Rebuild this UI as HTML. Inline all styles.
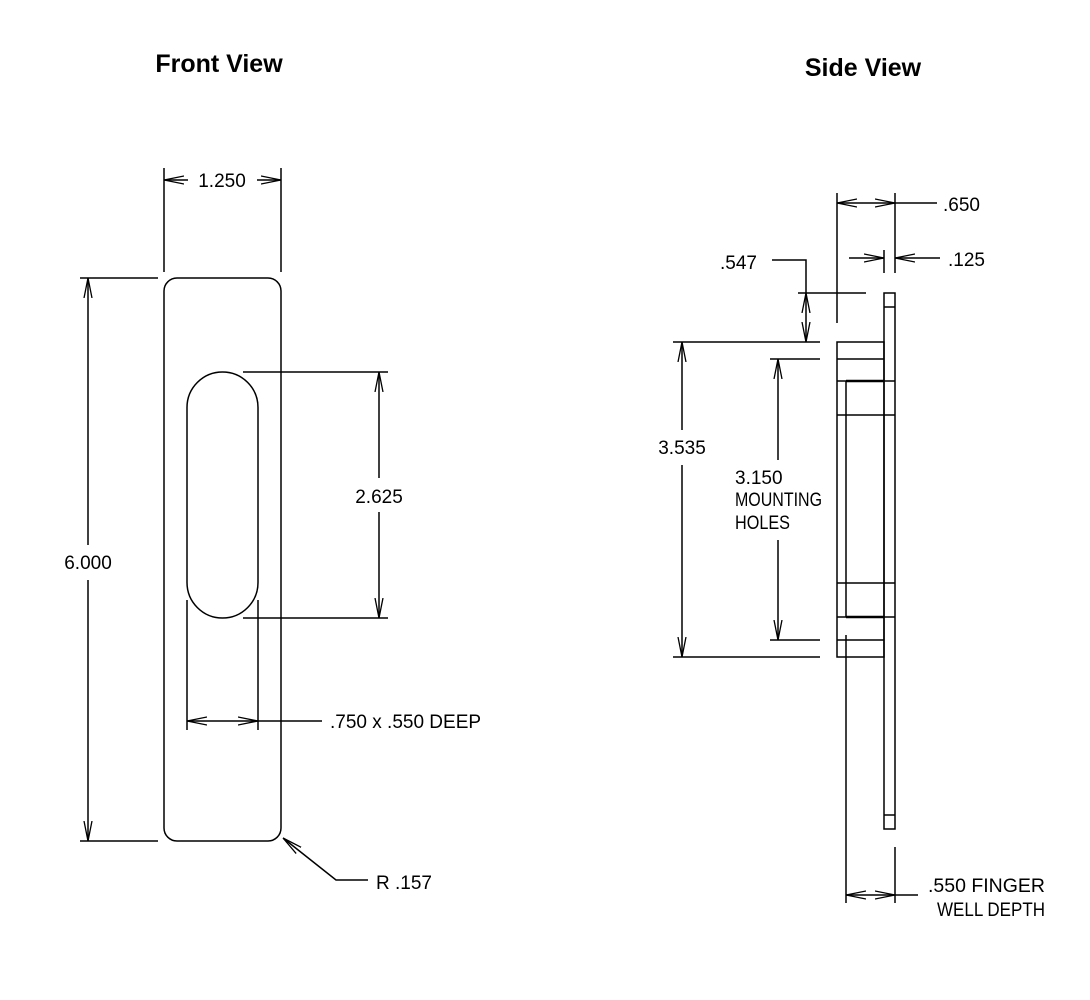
<!DOCTYPE html>
<html><head><style>
html,body{margin:0;padding:0;background:#fff}
svg{display:block}
text{font-family:"Liberation Sans",sans-serif;fill:#000}
.d{font-size:19px;font-weight:normal;letter-spacing:0px}
</style></head><body>
<svg width="1090" height="1000" viewBox="0 0 1090 1000" xmlns="http://www.w3.org/2000/svg">
<defs>
<marker id="a" viewBox="0 0 20 10" refX="20" refY="5" markerWidth="20" markerHeight="10" markerUnits="userSpaceOnUse" orient="auto-start-reverse">
<polyline points="0,1 20,5 0,9" fill="none" stroke="#000" stroke-width="1.3"/>
</marker>
</defs>
<g stroke="#000" stroke-width="1.5" fill="none">
<rect x="164" y="278" width="117" height="563" rx="13"/>
<rect x="187" y="372" width="71" height="246" rx="35.5"/>
<line x1="164" y1="168" x2="164" y2="272"/>
<line x1="281" y1="168" x2="281" y2="272"/>
<line x1="164" y1="180" x2="188" y2="180" marker-start="url(#a)"/>
<line x1="257" y1="180" x2="281" y2="180" marker-end="url(#a)"/>
<line x1="80" y1="278" x2="158" y2="278"/>
<line x1="80" y1="841" x2="158" y2="841"/>
<line x1="88" y1="278" x2="88" y2="545" marker-start="url(#a)"/>
<line x1="88" y1="580" x2="88" y2="841" marker-end="url(#a)"/>
<line x1="243" y1="372" x2="388" y2="372"/>
<line x1="243" y1="618" x2="388" y2="618"/>
<line x1="379" y1="372" x2="379" y2="478" marker-start="url(#a)"/>
<line x1="379" y1="512" x2="379" y2="618" marker-end="url(#a)"/>
<line x1="187" y1="600" x2="187" y2="730"/>
<line x1="258" y1="600" x2="258" y2="730"/>
<line x1="187" y1="721" x2="258" y2="721" marker-start="url(#a)" marker-end="url(#a)"/>
<line x1="258" y1="721" x2="322" y2="721"/>
<polyline points="368,880 336,880 283,838" marker-end="url(#a)"/>

<rect x="884" y="293" width="11" height="536"/>
<line x1="884" y1="307" x2="895" y2="307"/>
<line x1="884" y1="815" x2="895" y2="815"/>
<rect x="837" y="342" width="47" height="315"/>
<line x1="837" y1="359" x2="884" y2="359"/>
<line x1="837" y1="640" x2="884" y2="640"/>
<line x1="837" y1="381" x2="895" y2="381"/>
<line x1="846" y1="381" x2="884" y2="381" stroke-width="2.5"/>
<line x1="837" y1="617" x2="895" y2="617"/>
<line x1="846" y1="617" x2="884" y2="617" stroke-width="2.5"/>
<line x1="846" y1="381" x2="846" y2="617"/>
<line x1="837" y1="415" x2="895" y2="415"/>
<line x1="837" y1="583" x2="895" y2="583"/>
<line x1="846" y1="635" x2="846" y2="903"/>
<line x1="895" y1="847" x2="895" y2="903"/>
<line x1="846" y1="895" x2="895" y2="895" marker-start="url(#a)" marker-end="url(#a)"/>
<line x1="895" y1="895" x2="918" y2="895"/>
<line x1="837" y1="193" x2="837" y2="323"/>
<line x1="895" y1="193" x2="895" y2="273"/>
<line x1="884" y1="250" x2="884" y2="273"/>
<line x1="837" y1="203" x2="895" y2="203" marker-start="url(#a)" marker-end="url(#a)"/>
<line x1="895" y1="203" x2="937" y2="203"/>
<line x1="849" y1="258" x2="884" y2="258" marker-end="url(#a)"/>
<line x1="940" y1="258" x2="895" y2="258" marker-end="url(#a)"/>
<polyline points="772,260 806,260 806,293"/>
<line x1="798" y1="293" x2="866" y2="293"/>
<line x1="806" y1="293" x2="806" y2="342" marker-start="url(#a)" marker-end="url(#a)"/>
<line x1="673" y1="342" x2="820" y2="342"/>
<line x1="673" y1="657" x2="820" y2="657"/>
<line x1="682" y1="342" x2="682" y2="430" marker-start="url(#a)"/>
<line x1="682" y1="465" x2="682" y2="657" marker-end="url(#a)"/>
<line x1="770" y1="359" x2="820" y2="359"/>
<line x1="770" y1="640" x2="820" y2="640"/>
<line x1="778" y1="359" x2="778" y2="460" marker-start="url(#a)"/>
<line x1="778" y1="540" x2="778" y2="640" marker-end="url(#a)"/>
</g>
<text x="219" y="72" font-size="25" font-weight="bold" text-anchor="middle">Front View</text>
<text x="863" y="76" font-size="25" font-weight="bold" text-anchor="middle">Side View</text>
<g class="d">
<text x="222" y="187" text-anchor="middle" class="d">1.250</text>
<text x="88" y="569" text-anchor="middle" class="d">6.000</text>
<text x="379" y="503" text-anchor="middle" class="d">2.625</text>
<text x="330" y="728" class="d">.750 x .550 DEEP</text>
<text x="376" y="889" class="d">R .157</text>
<text x="943" y="211" class="d">.650</text>
<text x="948" y="266" class="d">.125</text>
<text x="720" y="269" class="d">.547</text>
<text x="682" y="454" text-anchor="middle" class="d">3.535</text>
<text x="735" y="484" class="d">3.150</text>
<text x="735" y="506" class="d" font-size="17" textLength="87" lengthAdjust="spacingAndGlyphs">MOUNTING</text>
<text x="735" y="529" class="d" font-size="17" textLength="55" lengthAdjust="spacingAndGlyphs">HOLES</text>
<text x="928" y="892" class="d" font-size="18" textLength="117" lengthAdjust="spacingAndGlyphs">.550 FINGER</text>
<text x="937" y="916" class="d" font-size="18" textLength="108" lengthAdjust="spacingAndGlyphs">WELL DEPTH</text>
</g>
</svg>
</body></html>
